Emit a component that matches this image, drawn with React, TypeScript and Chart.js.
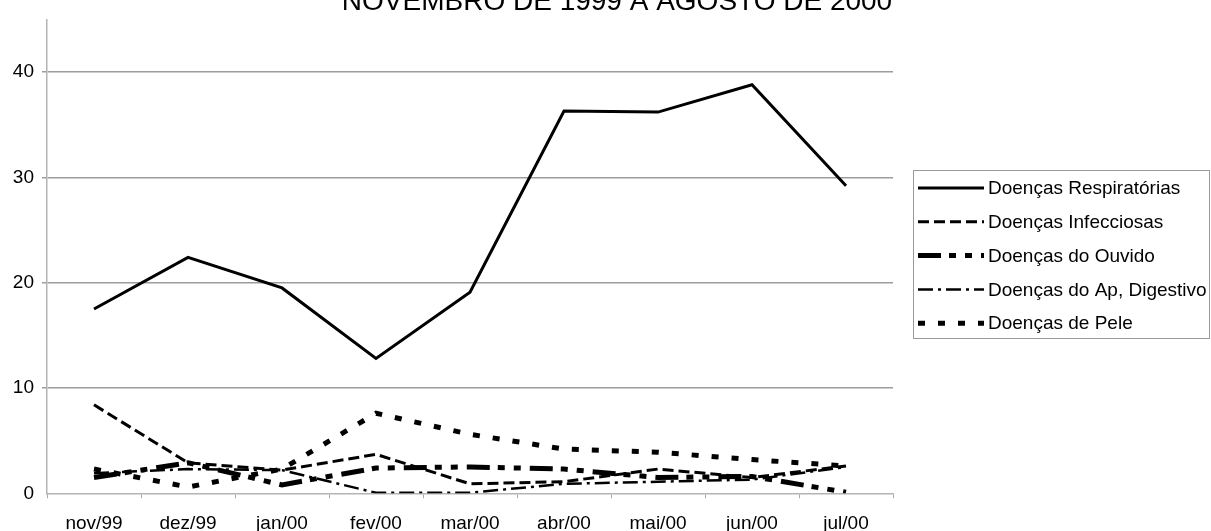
import React, { useEffect, useRef } from 'react';
import { Chart, registerables } from 'chart.js';

Chart.register(...registerables);

const titleText = 'NOVEMBRO DE 1999 A AGOSTO DE 2000';
const categories = ['nov/99', 'dez/99', 'jan/00', 'fev/00', 'mar/00', 'abr/00', 'mai/00', 'jun/00', 'jul/00'];
const yTicks = [0, 10, 20, 30, 40];

const respiratorias = [17.5, 22.4, 19.5, 12.8, 19.1, 36.3, 36.2, 38.8, 29.2];
const infecciosas = [8.4, 2.9, 2.2, 3.7, 0.9, 1.1, 2.3, 1.5, 2.6];
const ouvido = [1.5, 2.9, 0.8, 2.4, 2.5, 2.3, 1.5, 1.6, 0.1];
const digestivo = [1.9, 2.3, 2.2, 0.05, 0.05, 0.9, 1.1, 1.3, 2.5];
const pele = [2.3, 0.6, 2.3, 7.6, 5.6, 4.2, 3.9, 3.2, 2.6];

const seriesNames = [
  'Doenças Respiratórias',
  'Doenças Infecciosas',
  'Doenças do Ouvido',
  'Doenças do Ap, Digestivo',
  'Doenças de Pele',
];

const FONT = '"Liberation Sans", Arial, sans-serif';

export default function App() {
  const ref = useRef<HTMLCanvasElement>(null);

  useEffect(() => {
    const canvas = ref.current;
    if (!canvas) return;

    const titlePlugin = {
      id: 'cutTitle',
      afterDraw(chart: any) {
        const ctx = chart.ctx;
        ctx.save();
        ctx.fillStyle = '#000';
        ctx.font = `28px ${FONT}`;
        ctx.textAlign = 'center';
        ctx.textBaseline = 'alphabetic';
        ctx.fillText(titleText, 617, 10);
        ctx.restore();
      },
    };

    const boxLegend = {
      id: 'boxLegend',
      afterDraw(chart: any) {
        const ctx = chart.ctx;
        ctx.save();
        ctx.strokeStyle = '#9a9a9a';
        ctx.lineWidth = 1;
        ctx.setLineDash([]);
        ctx.strokeRect(913.5, 170.5, 296, 168);
        chart.data.datasets.forEach((ds: any, i: number) => {
          const y = 188 + i * 33.8;
          ctx.strokeStyle = '#000';
          ctx.lineWidth = ds.borderWidth;
          ctx.lineCap = 'butt';
          ctx.setLineDash(ds.borderDash || []);
          ctx.beginPath();
          ctx.moveTo(918, y);
          ctx.lineTo(984, y);
          ctx.stroke();
          ctx.setLineDash([]);
          ctx.fillStyle = '#000';
          ctx.font = `19px ${FONT}`;
          ctx.textAlign = 'left';
          ctx.textBaseline = 'middle';
          ctx.fillText(ds.label, 988, y + 1);
        });
        ctx.restore();
      },
    };

    const mk = (label: string, data: number[], width: number, dash: number[]) => ({
      label,
      data,
      borderColor: '#000',
      backgroundColor: '#000',
      borderWidth: width,
      borderDash: dash,
      pointRadius: 0,
      pointHoverRadius: 0,
      tension: 0,
      fill: false,
    });

    const chart = new Chart(canvas, {
      type: 'line',
      data: {
        labels: categories,
        datasets: [
          mk(seriesNames[0], respiratorias, 3, []),
          mk(seriesNames[1], infecciosas, 3, [11, 5]),
          mk(seriesNames[2], ouvido, 5, [23, 8, 7, 9, 7, 9]),
          mk(seriesNames[3], digestivo, 2.5, [15, 5, 3, 5]),
          mk(seriesNames[4], pele, 5, [7, 13]),
        ],
      },
      options: {
        responsive: false,
        animation: false,
        devicePixelRatio: 1,
        layout: { padding: { top: 12, right: 318, left: 0, bottom: 0 } },
        plugins: {
          legend: { display: false },
          title: { display: false },
          tooltip: { enabled: false },
        },
        scales: {
          x: {
            type: 'category',
            offset: true,
            grid: {
              display: true,
              offset: true,
              drawOnChartArea: false,
              drawTicks: true,
              tickLength: 5,
              color: '#a8a8a8',
            },
            border: { display: true, color: '#b4b4b4', width: 1.5 },
            ticks: {
              color: '#000',
              font: { size: 19, family: FONT },
              padding: 14,
              maxRotation: 0,
              autoSkip: false,
            },
            afterFit(scale: any) {
              scale.height = 37.7;
            },
          },
          y: {
            type: 'linear',
            min: 0,
            max: 45,
            ticks: {
              stepSize: 10,
              color: '#000',
              font: { size: 19, family: FONT },
              padding: 8,
            },
            afterBuildTicks(scale: any) {
              scale.ticks = yTicks.map((v) => ({ value: v }));
            },
            grid: {
              display: true,
              drawTicks: true,
              tickLength: 5,
              color: (c: any) => (c.tick && c.tick.value === 0 ? 'rgba(0,0,0,0)' : '#9c9c9c'),
              lineWidth: 1.5,
            },
            border: { display: true, color: '#b4b4b4', width: 1.5 },
            afterFit(scale: any) {
              scale.width = 47;
            },
          },
        },
      },
      plugins: [titlePlugin, boxLegend],
    } as any);

    return () => chart.destroy();
  }, []);

  return (
    <canvas
      ref={ref}
      width={1211}
      height={531}
      style={{ position: 'absolute', left: 0, top: 0, display: 'block', width: 1211, height: 531 }}
    />
  );
}
